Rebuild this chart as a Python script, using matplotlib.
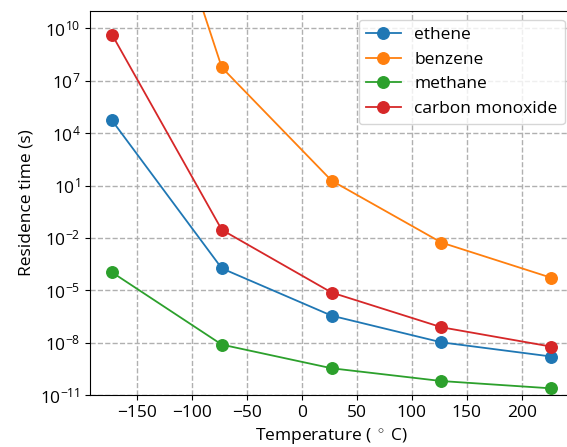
import matplotlib
matplotlib.use("Agg")
import matplotlib.pyplot as plt
import matplotlib.ticker as mticker

plt.rcParams['font.family'] = ['Open Sans', 'DejaVu Sans']
plt.rcParams['mathtext.fontset'] = 'custom'
plt.rcParams['mathtext.rm'] = 'Open Sans'
plt.rcParams['mathtext.it'] = 'Open Sans:italic'
plt.rcParams['mathtext.bf'] = 'Open Sans:bold'
plt.rcParams['font.size'] = 12.5

temperature_C = [-173, -73, 27, 127, 227]
ethene = [5.4e4, 1.8e-4, 3.5e-7, 1.04e-8, 1.6e-9]
benzene = [8e26, 5.8e7, 19, 5.4e-3, 5.2e-5]
methane = [1.07e-4, 7.7e-9, 3.4e-10, 6.3e-11, 2.4e-11]
carbon_monoxide = [4.5e9, 2.9e-2, 7.4e-6, 7.6e-8, 5.9e-9]

series = [("ethene", ethene), ("benzene", benzene), ("methane", methane),
          ("carbon monoxide", carbon_monoxide)]

fig = plt.figure(figsize=(5.67, 4.47), dpi=100)
ax = fig.add_axes([90/567, 52/447, 483.3/567, 384/447])

for name, vals in series:
    ax.plot(temperature_C, vals, marker='o', markersize=8.3, linewidth=1.3, label=name)

ax.set_yscale('log')
ax.set_ylim(1e-11, 1e11)
ax.yaxis.set_major_locator(mticker.FixedLocator([10.0**k for k in range(-11, 11, 3)]))
ax.yaxis.set_minor_locator(mticker.NullLocator())
ax.set_xticks([-150, -100, -50, 0, 50, 100, 150, 200])
ax.grid(True, linestyle='--', color='#b0b0b0', linewidth=1.0)
ax.set_axisbelow(True)

ax.set_xlabel("Temperature ( $^\\circ$ C)")
ax.set_ylabel("Residence time (s)")
ax.legend(loc='upper right', borderaxespad=0.5)

fig.savefig("out.png", dpi=100)
